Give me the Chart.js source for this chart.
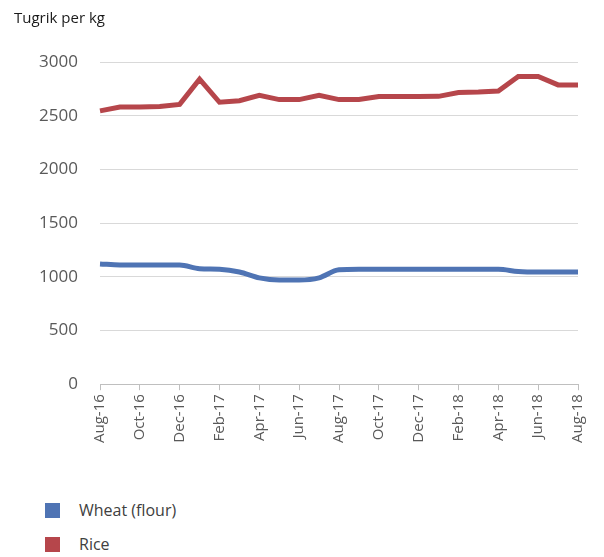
<!DOCTYPE html>
<html>
<head>
<meta charset="utf-8">
<script src="https://cdn.jsdelivr.net/npm/chart.js@4.4.1/dist/chart.umd.min.js"></script>
<style>
  html, body { margin: 0; padding: 0; background: #ffffff; }
  #wrap { position: relative; width: 604px; height: 557px; }
  #c { position: absolute; left: 0; top: 0; }
  #legend { position: absolute; left: 45px; top: 493px; font-family: "Open Sans", sans-serif; font-size: 16px; color: #404040; }
  .item { display: flex; align-items: center; height: 34px; }
  .box { width: 15px; height: 15px; margin-right: 19px; }
</style>
</head>
<body>
<div id="wrap">
  <canvas id="c" width="604" height="447"></canvas>
  <div id="legend"></div>
</div>
<script>
const categories = ["Aug-16","Sep-16","Oct-16","Nov-16","Dec-16","Jan-17","Feb-17","Mar-17","Apr-17","May-17","Jun-17","Jul-17","Aug-17","Sep-17","Oct-17","Nov-17","Dec-17","Jan-18","Feb-18","Mar-18","Apr-18","May-18","Jun-18","Jul-18","Aug-18"];
const wheatFlour = [1120,1110,1110,1110,1110,1075,1070,1045,990,970,970,990,1065,1070,1070,1070,1070,1070,1070,1070,1070,1050,1045,1045,1045];
const rice = [2545,2580,2580,2585,2605,2840,2625,2640,2690,2650,2650,2690,2650,2650,2678,2678,2678,2680,2715,2720,2730,2865,2865,2787,2787];
const seriesNames = ["Wheat (flour)", "Rice"];
const seriesColors = ["#4f74b4", "#b6464b"];
const yTicks = [0,500,1000,1500,2000,2500,3000];
const yTitle = "Tugrik per kg";

const FONT = "'Open Sans', sans-serif";

const chart = new Chart(document.getElementById('c'), {
  type: 'line',
  data: {
    labels: categories,
    datasets: [
      { label: seriesNames[0], data: wheatFlour, borderColor: seriesColors[0], backgroundColor: seriesColors[0], borderWidth: 5, pointRadius: 0, cubicInterpolationMode: 'monotone', fill: false },
      { label: seriesNames[1], data: rice, borderColor: seriesColors[1], backgroundColor: seriesColors[1], borderWidth: 5, pointRadius: 0, tension: 0, fill: false }
    ]
  },
  options: {
    responsive: false,
    animation: false,
    layout: { padding: { left: 14, right: 26, top: 0, bottom: 0 } },
    plugins: {
      legend: { display: false },
      tooltip: { enabled: false },
      title: {
        display: true, text: yTitle, align: 'start',
        color: '#1a1a1a', font: { family: FONT, size: 15, weight: 'normal' },
        padding: { top: 10, bottom: 34 }
      }
    },
    scales: {
      x: {
        offset: false,
        border: { display: true, color: '#bfbfbf', width: 1 },
        grid: { display: true, drawOnChartArea: false, drawTicks: true, tickLength: 6, color: '#bfbfbf' },
        ticks: {
          autoSkip: false, minRotation: 90, maxRotation: 90, padding: 4,
          color: '#595959', font: { family: FONT, size: 15 },
          callback: function(v, i) { return i % 2 === 0 ? categories[i] : null; }
        }
      },
      y: {
        min: 0, max: 3000,
        afterBuildTicks: function(s) { s.ticks = yTicks.map(v => ({ value: v })); },
        afterFit: function(s) { s.width = 86; },
        border: { display: false },
        grid: { color: '#d9d9d9', drawTicks: false, lineWidth: 1 },
        ticks: { padding: 22, color: '#595959', font: { family: FONT, size: 17 }, callback: function(v) { return String(v); } }
      }
    }
  }
});

const legend = document.getElementById('legend');
seriesNames.forEach((n, i) => {
  const d = document.createElement('div'); d.className = 'item';
  const b = document.createElement('div'); b.className = 'box'; b.style.background = seriesColors[i];
  const t = document.createElement('span'); t.textContent = n;
  d.appendChild(b); d.appendChild(t); legend.appendChild(d);
});
</script>
</body>
</html>
